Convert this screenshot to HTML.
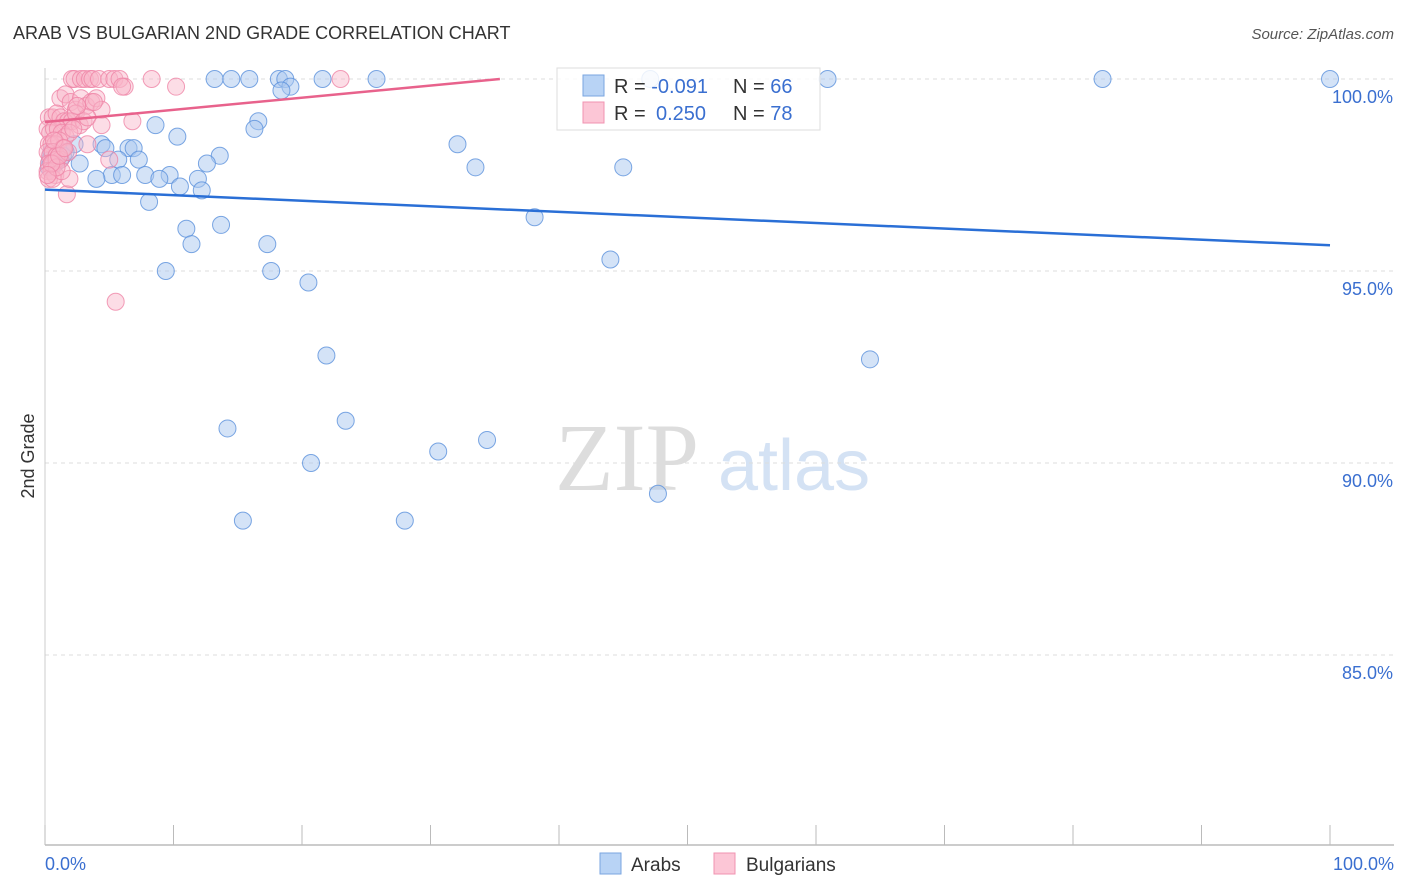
<!DOCTYPE html>
<html><head><meta charset="utf-8"><style>
body{margin:0;background:#fff;font-family:"Liberation Sans",sans-serif;}
svg{display:block}
</style></head><body>
<svg id="chart" width="1406" height="892" viewBox="0 0 1406 892">
<text x="13" y="39" font-size="18" fill="#333">ARAB VS BULGARIAN 2ND GRADE CORRELATION CHART</text>
<text x="1394" y="39" font-size="15" fill="#555" font-style="italic" text-anchor="end">Source: ZipAtlas.com</text>
<text transform="translate(34,456) rotate(-90)" font-size="18" fill="#333" text-anchor="middle">2nd Grade</text>
<g><text x="555" y="490" font-size="96" fill="#ddd" font-family="Liberation Serif,serif">ZIP</text><text x="718" y="490" font-size="72" fill="#d4e2f4">atlas</text></g>
<g id="grid"></g><g id="axes"></g><g id="marks"></g><g id="trends"></g>
<g>
<rect x="557" y="68" width="263" height="62" fill="#fff" fill-opacity="0.85" stroke="#ddd"/>
<rect x="583" y="75" width="21" height="21" fill="#b8d3f5" stroke="#7aa6e0"/>
<rect x="583" y="102" width="21" height="21" fill="#fcc6d6" stroke="#f093b0"/>
<text x="614" y="93" font-size="20" fill="#333">R = <tspan fill="#3a6fd0">-0.091</tspan></text>
<text x="733" y="93" font-size="20" fill="#333">N = <tspan fill="#3a6fd0">66</tspan></text>
<text x="614" y="120" font-size="20" fill="#333">R = <tspan fill="#3a6fd0" x="656">0.250</tspan></text>
<text x="733" y="120" font-size="20" fill="#333">N = <tspan fill="#3a6fd0">78</tspan></text>
</g>
<g>
<rect x="600" y="853" width="21" height="21" fill="#b8d3f5" stroke="#7aa6e0"/>
<text x="631" y="871" font-size="19" fill="#333">Arabs</text>
<rect x="714" y="853" width="21" height="21" fill="#fcc6d6" stroke="#f093b0"/>
<text x="746" y="871" font-size="19" fill="#333">Bulgarians</text>
</g>
</svg>
<script>
const yTicks=[100,95,90,85];
const yTickLabels=["100.0%","95.0%","90.0%","85.0%"];
const xTickLabels=["0.0%","100.0%"];
const arabX=[13.2,14.5,15.9,18.2,18.7,21.6,25.8,47.1,60.9,82.3,100,19.1,18.4,16.6,16.3,8.6,10.3,32.1,4.4,2.3,6.5,6.9,4.7,13.6,1.4,0.4,0.8,5.7,7.3,2.7,12.6,33.5,45,9.7,7.8,5.2,6,4,8.9,11.9,10.5,12.2,8.1,38.1,11,13.7,11.4,17.3,44.0,9.4,17.6,20.5,21.9,64.2,23.4,14.2,34.4,30.6,20.7,47.7,15.4,28,1.2,0.5,1.6,0.3];
const arabY=[100,100,100,100,100,100,100,100,100,100,100,99.8,99.7,98.9,98.7,98.8,98.5,98.3,98.3,98.3,98.2,98.2,98.2,98.0,98.0,97.9,97.8,97.9,97.9,97.8,97.8,97.7,97.7,97.5,97.5,97.5,97.5,97.4,97.4,97.4,97.2,97.1,96.8,96.4,96.1,96.2,95.7,95.7,95.3,95.0,95.0,94.7,92.8,92.7,91.1,90.9,90.6,90.3,90.0,89.2,88.5,88.5,97.9,98.1,98.1,97.7];
const bulgX=[2.1,2.3,2.8,3.1,3.5,3.7,4.2,5,5.4,5.8,6.2,8.3,23,10.2,6,1.2,1.6,2,2.4,2.8,3.2,3.6,4,4.4,0.3,0.6,0.9,1.2,1.5,1.8,2.1,2.4,2.7,3,3.3,0.2,0.4,0.7,1,1.3,1.6,1.9,2.2,0.3,0.5,0.8,1.1,1.4,0.2,0.4,0.6,0.9,1.2,0.3,0.6,0.9,0.2,0.5,0.8,0.3,0.6,1.8,3.3,6.8,5,1.7,1.9,1.3,0.9,0.5,0.2,0.7,1.1,1.5,2.5,3.8,4.4,5.5];
const bulgY=[100,100,100,100,100,100,100,100,100,100,99.8,100,100,99.8,99.8,99.5,99.6,99.4,99.2,99.5,99.3,99.4,99.5,99.2,99.0,99.0,99.1,99.0,98.9,98.9,98.9,99.1,98.8,98.9,99.0,98.7,98.6,98.7,98.7,98.6,98.5,98.6,98.7,98.3,98.3,98.3,98.4,98.2,98.1,98.0,98.1,98.0,97.9,97.8,97.8,97.9,97.6,97.6,97.5,97.4,97.4,98.1,98.3,98.9,97.9,97.0,97.4,97.6,97.7,97.8,97.5,98.4,98.0,98.2,99.3,99.4,98.8,94.2];
const trendBlue=[97.12,95.67];
const trendPink=[98.88,100];
const X=v=>45+v*12.85, Y=v=>79+(100-v)*38.4;
const ns="http://www.w3.org/2000/svg";
function mk(p,t,a){const e=document.createElementNS(ns,t);for(const k in a)e.setAttribute(k,a[k]);p.appendChild(e);return e;}
const grid=document.getElementById('grid'),axes=document.getElementById('axes'),marks=document.getElementById('marks'),tr=document.getElementById('trends');
yTicks.forEach((t,i)=>{
 const l=mk(grid,'line',{x1:45,x2:1394,y1:Y(t),y2:Y(t),stroke:'#ddd','stroke-dasharray':'4,4'});
 
 
 const tx=mk(axes,'text',{x:1393,y:Y(t)+24,'font-size':18,fill:'#3a6fd0','text-anchor':'end'});
 tx.textContent=yTickLabels[i];
 
 
});
const ax=mk(axes,'line',{x1:45,x2:1394,y1:845,y2:845,stroke:'#bbb','stroke-width':1.5});


const ay=mk(axes,'line',{x1:45,x2:45,y1:68,y2:845,stroke:'#ccc'});


for(let i=0;i<=10;i++){const t=mk(axes,'line',{x1:X(i*10),x2:X(i*10),y1:825,y2:845,stroke:'#bbb'});
 
 }
[[0,'start',45],[1,'end',1394]].forEach(([i,a,x])=>{const t=mk(axes,'text',{x:x,y:870,'font-size':18,fill:'#3a6fd0','text-anchor':a});t.textContent=xTickLabels[i];
 
 });
arabX.forEach((v,i)=>{const c=mk(marks,'circle',{cx:X(v),cy:Y(arabY[i]),r:8.5,fill:'#a9c8f0','fill-opacity':0.5,stroke:'#5b91dc','stroke-opacity':0.8});
 
 });
bulgX.forEach((v,i)=>{const c=mk(marks,'circle',{cx:X(v),cy:Y(bulgY[i]),r:8.5,fill:'#f9b3c8','fill-opacity':0.45,stroke:'#ef85a6','stroke-opacity':0.8});
 
 });
const b=mk(tr,'line',{x1:X(0),y1:Y(trendBlue[0]),x2:X(100),y2:Y(trendBlue[1]),stroke:'#2a6fd6','stroke-width':2.5});


const p=mk(tr,'line',{x1:X(0),y1:Y(trendPink[0]),x2:X(35.4),y2:Y(trendPink[1]),stroke:'#e8628c','stroke-width':2.5});


</script>
</body></html>
